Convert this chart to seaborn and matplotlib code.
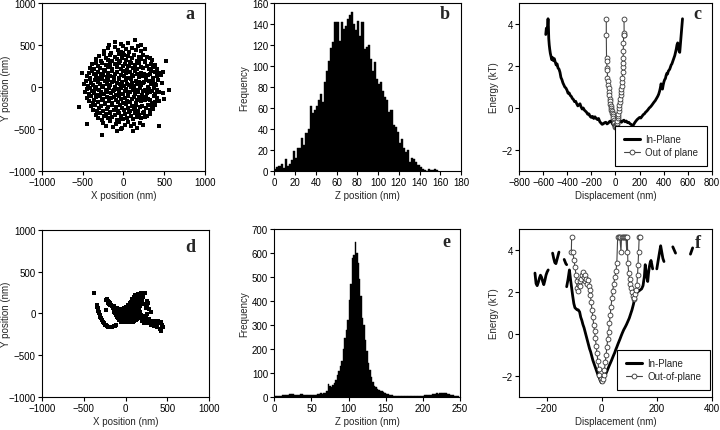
import numpy as np
import pandas as pd
import matplotlib
matplotlib.use("Agg")
import matplotlib.pyplot as plt
import seaborn as sns
from matplotlib.lines import Line2D

# ---------------- data ----------------
# panel a: lateral positions (nm), read band by band from the cloud
a_x = [-100, 140, -30, 60, -180, 210,
       -240, -190, -150, -110, -70, -35, 0, 30, 70, 110, 150, 180, 220, 260, -5,
       -340, -300, -270, -240, -215, -190, -160, -135, -110, -85, -60, -40, -15, 10, 35, 60, 85, 110, 135, 160,
       185, 210, 240, 265, 290, 320, 345, -5,
       -410, -385, -360, -335, -310, -285, -260, -235, -210, -185, -160, -135, -110, -85, -60, -35, -10, 15,
       40, 65, 90, 115, 140, 165, 190, 215, 240, 265, 290, 315, 340, 365, 390, 415, -170, 60,
       -450, -428, -406, -384, -362, -340, -318, -296, -274, -252, -230, -208, -186, -164, -142, -120, -98, -76,
       -54, -32, -10, 12, 34, 56, 78, 100, 122, 144, 166, 188, 210, 232, 254, 276, 298, 320, 342, 364, 386,
       408, 430, 455,
       -480, -458, -437, -416, -395, -374, -353, -332, -311, -290, -269, -248, -227, -206, -185, -164, -143,
       -122, -101, -80, -59, -38, -17, 4, 25, 46, 67, 88, 109, 130, 151, 172, 193, 214, 235, 256, 277, 298,
       319, 340, 361, 382, 403, 424, 470,
       -470, -449, -428, -407, -386, -365, -344, -323, -302, -281, -260, -239, -218, -197, -176, -155, -134,
       -113, -92, -71, -50, -29, -8, 13, 34, 55, 76, 97, 118, 139, 160, 181, 202, 223, 244, 265, 286, 307,
       328, 349, 370, 391, 412, 440, 490,
       -445, -423, -401, -379, -357, -335, -313, -291, -269, -247, -225, -203, -181, -159, -137, -115, -93, -71,
       -49, -27, -5, 17, 39, 61, 83, 105, 127, 149, 171, 193, 215, 237, 259, 281, 303, 325, 347, 369, 391,
       413, 435, 500,
       -400, -376, -352, -328, -304, -280, -256, -232, -208, -184, -160, -136, -112, -88, -64, -40, -16, 8,
       32, 56, 80, 104, 128, 152, 176, 200, 224, 248, 272, 296, 320, 344, 368, 392, -20, 140,
       -335, -310, -285, -260, -235, -210, -185, -160, -135, -110, -85, -60, -35, -10, 15, 40, 65, 90, 115, 140,
       165, 190, 215, 240, 265, 290, 320, -50,
       -250, -210, -170, -130, -90, -50, -15, 20, 55, 90, 125, 160, 200, 240, -30,
       -550, -260, 560, 440, -80, 120, -450, 520, -510, 480]
a_y = [540, 565, 510, 525, 505, 500,
       430, 470, 410, 480, 445, 420, 490, 455, 415, 470, 440, 485, 425, 450, 405,
       330, 370, 310, 390, 345, 320, 375, 305, 360, 335, 395, 315, 350, 380, 325, 365, 300, 345, 385, 315,
       355, 330, 375, 305, 360, 340, 320, 395,
       230, 270, 210, 290, 250, 225, 280, 205, 260, 240, 295, 215, 270, 235, 285, 220, 255, 275,
       205, 245, 290, 230, 265, 210, 280, 240, 225, 295, 250, 215, 270, 235, 260, 220, 245, 255,
       130, 170, 110, 190, 150, 125, 180, 105, 160, 140, 195, 115, 170, 135, 185, 120, 155, 175,
       105, 145, 190, 130, 165, 110, 180, 140, 125, 195, 150, 115, 170, 135, 160, 120, 145, 155, 185, 105, 175,
       130, 165, 140,
       30, 70, 10, 90, 50, 25, 80, 5, 60, 40, 95, 15, 70, 35, 85, 20, 55,
       75, 5, 45, 90, 30, 65, 10, 80, 40, 25, 95, 50, 15, 70, 35, 60, 20, 45, 55, 85, 5,
       75, 30, 65, 40, 20, 80, 50,
       -60, -20, -80, -10, -45, -70, -25, -95, -40, -55, -5, -85, -30, -65, -15, -75, -50,
       -35, -90, -25, -60, -10, -80, -45, -20, -70, -55, -5, -40, -85, -30, -65, -15, -95, -50, -35, -75, -20,
       -60, -45, -10, -80, -30, -55, -70,
       -130, -170, -110, -190, -150, -125, -180, -105, -160, -140, -195, -115, -170, -135, -185, -120, -155, -175,
       -105, -145, -190, -130, -165, -110, -180, -140, -125, -195, -150, -115, -170, -135, -160, -120, -145,
       -155, -185, -105, -175, -130, -165, -140,
       -230, -270, -210, -290, -250, -225, -280, -205, -260, -240, -295, -215, -270, -235, -285, -220, -255, -275,
       -205, -245, -290, -230, -265, -210, -280, -240, -225, -295, -250, -215, -270, -235, -260, -220, -245, -255,
       -330, -370, -310, -390, -345, -320, -375, -305, -360, -335, -395, -315, -350, -380, -325, -365, -300, -345,
       -385, -315, -355, -330, -375, -305, -360, -340, -320, -395,
       -430, -470, -410, -480, -445, -420, -490, -455, -415, -470, -440, -485, -425, -450, -505,
       -240, -570, -40, -470, -530, -520, -440, 315, 170, 180]

# panel b: z-position histogram, 2 nm bins starting at 0
b_start = 0
b_counts = [2, 4, 5, 7, 3, 11, 5, 7, 10, 19,
            12, 22, 22, 31, 25, 36, 40, 62, 55, 58,
            62, 68, 73, 66, 85, 95, 105, 117, 123, 142,
            142, 124, 142, 135, 138, 145, 149, 151, 140, 134,
            143, 129, 142, 116, 118, 120, 107, 95, 104, 88,
            83, 85, 76, 70, 68, 56, 58, 44, 42, 37,
            27, 30, 22, 18, 20, 9, 12, 11, 9, 6,
            4, 2, 1, 0, 2, 1, 1, 2, 1]

# panel c: energy profiles
c_in_x = [-578, -573, -568, -563, -559, -556, -553, -549, -545, -540,
          -534, -528, -521, -514, -507, -500, -492, -484, -476, -468,
          -460, -452, -444, -436, -428, -420, -411, -402, -393, -384,
          -375, -366, -357, -348, -339, -330, -321, -312, -303, -294,
          -285, -276, -267, -258, -249, -240, -230, -220, -210, -200,
          -190, -180, -170, -160, -150, -140, -130, -120, -110, -100,
          -90, -80, -70, -60, -50, -40, -30, -20, -10, 0,
          10, 20, 30, 40, 50, 60, 70, 80, 90, 100,
          110, 120, 130, 140, 150, 160, 170, 180, 190, 200,
          210, 220, 230, 240, 250, 260, 270, 280, 290, 300,
          310, 320, 330, 340, 350, 358, 366, 372, 378, 384,
          390, 396, 402, 408, 414, 420, 426, 432, 438, 444,
          450, 456, 462, 468, 474, 480, 486, 492, 498, 504,
          510, 516, 522, 528, 533, 538, 542, 546, 550, 553, 556]
c_in_y = [3.5, 3.8, 3.6, 3.9, 4.25, 3.9, 3.3, 3.0, 2.8, 2.6,
          2.45, 2.3, 2.4, 2.25, 2.35, 2.2, 2.05, 2.1, 1.9, 1.85,
          1.7, 1.45, 1.35, 1.2, 1.1, 1.0, 0.95, 0.85, 0.7, 0.72,
          0.6, 0.55, 0.45, 0.4, 0.3, 0.32, 0.2, 0.1, 0.15, 0.2,
          0.05, -0.05, 0.0, -0.1, -0.15, -0.2, -0.3, -0.28, -0.4, -0.45,
          -0.4, -0.5, -0.42, -0.5, -0.55, -0.5, -0.65, -0.72, -0.78, -0.75,
          -0.7, -0.68, -0.76, -0.72, -0.65, -0.62, -0.7, -0.8, -0.85, -0.9,
          -0.82, -0.72, -0.65, -0.6, -0.68, -0.62, -0.58, -0.66, -0.62, -0.7,
          -0.68, -0.75, -0.78, -0.85, -0.8, -0.7, -0.62, -0.55, -0.5, -0.45,
          -0.48, -0.4, -0.32, -0.28, -0.2, -0.15, -0.08, 0.0, 0.05, 0.12,
          0.2, 0.28, 0.35, 0.45, 0.55, 0.65, 0.8, 0.95, 1.15, 1.05,
          0.9, 1.1, 1.25, 1.35, 1.4, 1.55, 1.65, 1.62, 1.75, 1.8,
          1.85, 1.95, 2.05, 2.1, 2.2, 2.3, 2.4, 2.5, 2.65, 2.8,
          3.0, 3.1, 2.95, 2.7, 2.65, 3.0, 3.3, 3.6, 3.9, 4.1, 4.25]
c_out_x = [-76, -76, -74, -72, -70, -68, -66, -63, -60, -57,
           -54, -51, -48, -45, -42, -39, -36, -33, -30, -27,
           -24, -21, -18, -15, -12, -9, -6, -3, 0, 3,
           6, 9, 12, 15, 18, 21, 24, 27, 30, 33,
           36, 39, 42, 45, 48, 51, 54, 57, 59, 61,
           62, 64, 65, 66, 68, 70, 72, 71]
c_out_y = [4.25, 3.5, 2.4, 2.25, 1.9, 1.8, 1.45, 1.3, 1.1, 0.95,
           0.75, 0.6, 0.45, 0.35, 0.2, 0.1, 0.0, -0.1, -0.15, -0.25,
           -0.3, -0.4, -0.5, -0.55, -0.65, -0.72, -0.8, -0.85, -0.9, -0.92,
           -0.85, -0.78, -0.7, -0.6, -0.5, -0.4, -0.3, -0.15, 0.0, 0.15,
           0.3, 0.45, 0.6, 0.75, 0.9, 1.05, 1.25, 1.45, 1.7, 1.95,
           2.15, 2.4, 2.7, 3.1, 3.5, 3.55, 3.5, 4.25]

# panel d: lateral positions (nm) of the confined particle
d_x = [-150, -125, -100, -75, -50, -25, 0, 25, 50, 75, 100, 125, 150,
       -140, -115, -90, -65, -40, -15, 10, 35, 60, 85, 110, 135, 160,
       -135, -110, -85, -60, -35, -10, 15, 40, 65, 90, 115, 140, 168,
       -125, -100, -75, -50, -25, 0, 25, 50, 75, 100, 125, 150, 175,
       -115, -90, -65, -40, -15, 10, 35, 60, 85, 110, 135, 160, 180,
       -105, -80, -55, -30, -5, 20, 45, 70, 95, 120, 145, 170,
       -95, -70, -45, -20, 5, 30, 55, 80, 105, 130, 150,
       -80, -55, -30, -5, 20, 45, 70, 95, 120,
       -60, -35, -10, 15, 40, 65, 90,
       -180, -160, -140, 10, 35, 60, 90, 120, 150, 175,
       -200, -185, 30, 55, 80, 105, 140, 170,
       -215, 50, 75, 100, 130, 160, 185,
       60, 90, 120, 150, 180, 75, 110, 140, 170, 200, 95, 130, 165, 195, 115, 150, 185, 210,
       -230, -215, -200, -190,
       210, 235, 250, 225, 260, 280, 300, 245, 270,
       200, 220, 240, 255, 275, 290, 310, 330, 345, 365,
       385, 400, 420, 435, 445, 375, 405, 425, 265, 300,
       335, 230, 250, 195, 215, 180,
       -345, -342, -338, -334, -330, -326, -322, -318, -312, -305, -296, -286,
       -275, -262, -248, -234, -220, -205, -190, -175, -160, -145, -130, -115,
       -376, -233, -217]
d_y = [62, 55, 66, 58, 52, 64, 57, 61, 54, 67, 59, 52, 63,
       42, 36, 45, 38, 33, 47, 40, 35, 44, 38, 31, 46, 40,
       22, 16, 25, 18, 13, 27, 20, 15, 24, 18, 12, 26, 20,
       2, -5, 6, -2, -7, 5, 0, -6, 4, -3, -8, 6, -1,
       -18, -25, -14, -22, -27, -15, -20, -26, -16, -23, -28, -14, -21,
       -38, -45, -34, -42, -47, -35, -40, -46, -36, -43, -48, -39,
       -58, -65, -54, -62, -67, -55, -60, -66, -56, -63, -59,
       -78, -85, -74, -82, -87, -75, -80, -86, -77,
       -98, -104, -95, -102, -107, -96, -101,
       98, 90, 84, 82, 88, 84, 76, 90, 80, 86,
       112, 104, 102, 108, 104, 98, 110, 100,
       124, 120, 126, 118, 126, 118, 122,
       140, 150, 145, 138, 148, 170, 165, 175, 168, 160, 195, 200, 190, 205, 225, 235, 240, 225,
       160, 145, 132, 120,
       200, 250, 150, 110, 90, 50, 20, 60, 120,
       -50, -75, -60, -90, -70, -100, -85, -110, -90, -115,
       -95, -120, -105, -140, -160, -165, -180, -215, -120, -135,
       -145, -30, -10, -90, -110, -60,
       105, 90, 75, 60, 45, 30, 15, 0, -20, -40, -60, -80,
       -100, -118, -132, -142, -150, -156, -160, -163, -160, -154, -146, -138,
       248, 41, 170]

# panel e: z-position histogram, 2 nm bins starting at 0
e_start = 0
e_counts = [2, 3, 3, 4, 4, 5, 5, 6, 7, 8,
            10, 11, 10, 9, 7, 6, 8, 11, 12, 9,
            7, 6, 8, 7, 6, 8, 9, 7, 9, 12,
            13, 14, 13, 15, 14, 25, 52, 45, 40, 48,
            58, 70, 90, 108, 128, 150, 200, 245, 280, 320,
            405, 470, 578, 590, 645, 600, 560, 490, 420, 330,
            300, 235, 192, 140, 110, 82, 62, 46, 40, 32,
            28, 25, 24, 20, 17, 12, 10, 8, 6, 5,
            4, 3, 3, 2, 2, 2, 2, 1, 2, 1,
            2, 2, 1, 2, 2, 3, 2, 3, 3, 4,
            4, 5, 6, 5, 7, 8, 10, 12, 11, 15,
            13, 16, 14, 17, 15, 16, 13, 10, 8, 6,
            5, 4, 3, 2]

# panel f: energy profiles (in-plane trace has separate pieces)
f_in_seg = [0] * 77 + [1] * 13 + [2] * 7 + [3] * 4 + [4] * 7 + [5] * 3 + [6] * 3
f_in_x = [-127, -122, -117, -113, -109, -105, -101, -97, -93, -89, -85, -80, -76, -72, -68, -64, -60,
          -56, -52, -48, -44, -40, -36, -32, -28, -24, -20, -16, -12, -8, -4, -1,
          3, 7, 11, 15, 19, 23, 27, 31, 35, 39, 43, 47, 51, 55, 59, 63, 67, 71, 75,
          80, 85, 90, 95, 100, 105, 110, 115, 120, 125, 130, 135, 140, 145, 150,
          155, 158, 161, 164, 167, 170, 173, 176, 179, 182, 185,
          -242, -238, -234, -230, -226, -222, -218, -214, -210, -206, -202, -198, -194,
          -178, -174, -170, -166, -162, -158, -155,
          -136, -133, -130, -127,
          200, 205, 210, 214, 218, 222, 226,
          258, 263, 268,
          322, 326, 330]
f_in_y = [2.25, 2.6, 3.05, 2.6, 2.2, 1.8, 1.45, 1.25, 1.2, 1.15, 1.15, 1.05, 0.8, 0.65, 0.45, 0.3, 0.1,
          -0.1, -0.3, -0.5, -0.7, -0.85, -1.05, -1.25, -1.4, -1.55, -1.7, -1.85, -2.0, -2.1, -2.25, -2.32,
          -2.22, -2.1, -2.0, -1.9, -1.78, -1.65, -1.52, -1.4, -1.28, -1.15, -1.02, -0.9, -0.75, -0.62, -0.48,
          -0.35, -0.22, -0.08, 0.05,
          0.2, 0.32, 0.45, 0.6, 0.75, 0.95, 1.15, 1.4, 1.7, 1.9, 2.0, 2.05, 2.1, 2.15, 2.3,
          2.75, 3.3, 3.0, 2.7, 2.5, 2.9, 3.2, 3.4, 3.5, 3.3, 3.1,
          2.9, 2.4, 2.3, 2.45, 2.65, 2.8, 2.7, 2.5, 2.35, 2.55, 2.8, 2.95, 3.05,
          3.85, 3.6, 3.4, 3.35, 3.55, 3.75, 3.9,
          3.55, 3.45, 3.35, 3.3,
          3.1, 3.5, 3.9, 4.2, 3.9, 3.6, 3.45,
          4.15, 4.0, 3.85,
          3.8, 3.95, 4.1]
f_out_x = [-109, -110, -105, -100, -97, -93, -91, -89, -86, -83,
           -80, -77, -74, -71, -68, -65, -62, -59, -56, -53,
           -50, -47, -44, -41, -38, -35, -32, -29, -26, -23,
           -20, -17, -14, -11, -8, -4, 0, 4, 7, 10,
           13, 16, 19, 22, 25, 28, 31, 34, 37, 40,
           44, 48, 52, 55, 58, 62, 66, 70, 72, 76,
           80, 84, 88, 91, 93, 95, 98, 101, 104, 107,
           110, 113, 116, 119, 122, 125, 128, 130, 132, 134,
           136, 140]
f_out_y = [4.6, 3.92, 3.92, 3.5, 3.2, 2.8, 2.5, 2.2, 2.05, 2.35,
           2.5, 2.3, 2.6, 2.8, 2.95, 2.7, 2.5, 2.8, 2.6, 2.4,
           2.55, 2.3, 2.1, 1.85, 1.5, 1.12, 0.8, 0.45, 0.16, -0.2,
           -0.55, -0.9, -1.28, -1.65, -1.95, -2.15, -2.25, -2.15, -1.95, -1.7,
           -1.35, -1.0, -0.6, -0.25, 0.1, 0.5, 0.9, 1.3, 1.7, 2.05,
           2.4, 2.7, 3.0, 3.4, 4.6, 4.6, 4.6, 3.92, 4.6, 4.6,
           4.6, 4.6, 4.6, 3.92, 4.6, 3.4, 2.9, 2.6, 2.4, 2.2,
           2.0, 1.8, 1.65, 1.7, 1.9, 2.1, 2.35, 2.8, 3.3, 3.9,
           4.6, 4.6]

# ---------------- styling ----------------
sns.set_style("ticks")
plt.rcParams['font.family'] = ['Liberation Sans', 'DejaVu Sans']
plt.rcParams['font.size'] = 7
plt.rcParams['axes.linewidth'] = 0.8


def makeup(ax, letter, lx, ly):
    for s in ax.spines.values():
        s.set_visible(True)
        s.set_color('black')
        s.set_linewidth(0.8)
    ax.tick_params(direction='out', length=3, width=0.8, labelsize=7, pad=1.5, colors='black')
    ax.text(lx, ly, letter, transform=ax.transAxes, fontfamily='Liberation Serif',
            fontweight='bold', fontsize=13, ha='center', va='center')


def scatter_panel(ax, xs, ys, s, label_x):
    sns.scatterplot(x=xs, y=ys, ax=ax, s=s, marker='s', color='black', linewidth=0)
    ax.set_xlim(-1000, 1000)
    ax.set_ylim(-1000, 1000)
    ax.set_xticks([-1000, -500, 0, 500, 1000])
    ax.set_yticks([-1000, -500, 0, 500, 1000])
    ax.set_xlabel("X position (nm)", fontsize=7, labelpad=2)
    ax.set_ylabel("Y position (nm)", fontsize=7)
    ax.yaxis.set_label_coords(label_x, 0.5)


def hist_panel(ax, start, counts):
    hist = pd.DataFrame({'z': start + 1.0 + 2.0 * np.arange(len(counts)),
                         'n': np.asarray(counts, dtype=float)})
    sns.histplot(data=hist, x='z', weights='n', binwidth=2,
                 binrange=(start, start + 2 * len(counts)), ax=ax, color='black',
                 edgecolor='black', linewidth=0.3, alpha=1)
    ax.set_xlabel("Z position (nm)", fontsize=7, labelpad=2)
    ax.set_ylabel("Frequency", fontsize=7, labelpad=2)


def energy_legend(ax, label2, anchor):
    handles = [Line2D([], [], color='black', lw=2.2, label='In-Plane'),
               Line2D([], [], color='#444444', lw=0.8, marker='o', ms=3.5,
                      mfc='white', mec='#333333', mew=0.6, label=label2)]
    leg = ax.legend(handles=handles, loc='lower right', bbox_to_anchor=anchor, fontsize=7,
                    frameon=True, fancybox=False, edgecolor='black', framealpha=1,
                    handlelength=1.7, handletextpad=0.5, labelspacing=0.3, borderpad=0.9,
                    borderaxespad=0)
    leg.get_frame().set_linewidth(0.8)


fig = plt.figure(figsize=(7.2, 4.31), dpi=100)
ax_a = fig.add_axes([0.0583, 0.601, 0.2264, 0.3897])
ax_b = fig.add_axes([0.381, 0.601, 0.2593, 0.3897])
ax_c = fig.add_axes([0.7208, 0.601, 0.268, 0.3897])
ax_d = fig.add_axes([0.0583, 0.0766, 0.2324, 0.3875])
ax_e = fig.add_axes([0.381, 0.0773, 0.2579, 0.389])
ax_f = fig.add_axes([0.7208, 0.0766, 0.268, 0.3898])

# a
scatter_panel(ax_a, a_x, a_y, 5.5, -0.19)
makeup(ax_a, 'a', 0.908, 0.935)

# b
hist_panel(ax_b, b_start, b_counts)
ax_b.set_xlim(0, 180)
ax_b.set_ylim(0, 160)
ax_b.set_xticks(range(0, 181, 20))
ax_b.set_yticks(range(0, 161, 20))
makeup(ax_b, 'b', 0.914, 0.935)

# c
sns.lineplot(x=c_in_x, y=c_in_y, ax=ax_c, sort=False, estimator=None, color='black', lw=2.0)
sns.lineplot(x=c_out_x, y=c_out_y, ax=ax_c, sort=False, estimator=None, color='#444444', lw=0.8,
             marker='o', markersize=3.5, markerfacecolor='white', markeredgecolor='#333333',
             markeredgewidth=0.6)
ax_c.set_xlim(-800, 800)
ax_c.set_ylim(-3, 5)
ax_c.set_xticks(range(-800, 801, 200))
ax_c.set_yticks([-2, 0, 2, 4])
ax_c.set_xlabel("Displacement (nm)", fontsize=7, labelpad=2)
ax_c.set_ylabel("Energy (kT)", fontsize=7, labelpad=2)
energy_legend(ax_c, 'Out of plane', (0.974, 0.03))
makeup(ax_c, 'c', 0.927, 0.935)

# d
scatter_panel(ax_d, d_x, d_y, 7.0, -0.185)
makeup(ax_d, 'd', 0.885, 0.904)

# e
hist_panel(ax_e, e_start, e_counts)
ax_e.set_xlim(0, 250)
ax_e.set_ylim(0, 700)
ax_e.set_xticks(range(0, 251, 50))
ax_e.set_yticks(range(0, 701, 100))
makeup(ax_e, 'e', 0.925, 0.928)

# f
f_in = pd.DataFrame({'x': f_in_x, 'y': f_in_y, 'seg': f_in_seg})
sns.lineplot(data=f_in, x='x', y='y', units='seg', estimator=None, sort=False, ax=ax_f,
             color='black', lw=2.0, legend=False)
sns.lineplot(x=f_out_x, y=f_out_y, ax=ax_f, sort=False, estimator=None, color='#444444', lw=0.8,
             marker='o', markersize=3.5, markerfacecolor='white', markeredgecolor='#333333',
             markeredgewidth=0.6)
ax_f.set_xlim(-300, 400)
ax_f.set_ylim(-3, 5)
ax_f.set_xticks([-200, 0, 200, 400])
ax_f.set_yticks([-2, 0, 2, 4])
ax_f.set_xlabel("Displacement (nm)", fontsize=7, labelpad=2)
ax_f.set_ylabel("Energy (kT)", fontsize=7, labelpad=2)
energy_legend(ax_f, 'Out-of-plane', (0.99, 0.042))
makeup(ax_f, 'f', 0.927, 0.917)

fig.savefig("out.png", dpi=100)
